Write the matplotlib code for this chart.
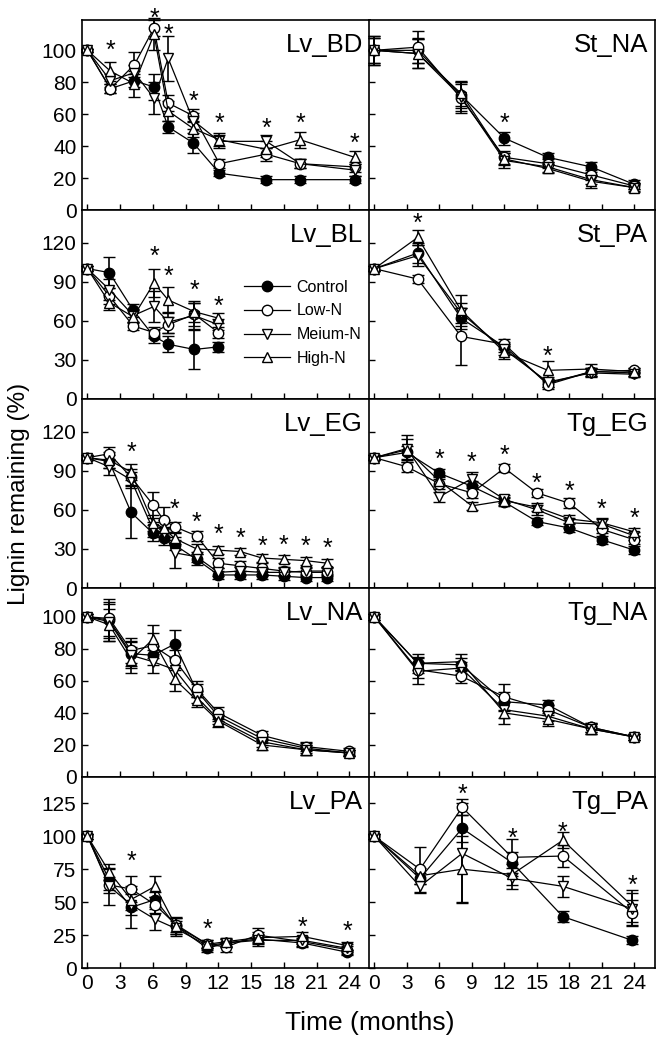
import matplotlib
matplotlib.use("Agg")
import matplotlib.pyplot as plt
from matplotlib.lines import Line2D
import numpy as np

plt.rcParams['font.family'] = ['Liberation Sans', 'DejaVu Sans']

# Data ---------------------------------------------------------------------------------------
series_names = ['Control', 'Low-N', 'Meium-N', 'High-N']
month_ticks = [0, 3, 6, 9, 12, 15, 18, 21, 24]

# Lv_BD
bd_t = [0, 2.1, 4.3, 6.1, 7.4, 9.7, 12.1, 16.4, 19.5, 24.5]
bd_vals = [[100, 76, 81, 77, 52, 42, 23, 19, 19, 19],
           [100, 76, 91, 114, 67, 59, 29, 35, 29, 27],
           [100, 81, 86, 70, 95, 56, 43, 43, 29, 25],
           [100, 87, 79, 110, 62, 51, 44, 38, 44, 33]]
bd_err = [[1, 3, 4, 8, 4, 6, 2, 2, 2, 2],
          [1, 3, 8, 5, 5, 4, 3, 4, 3, 3],
          [1, 4, 5, 10, 14, 5, 4, 4, 3, 4],
          [1, 6, 8, 10, 6, 5, 4, 5, 5, 4]]
bd_star_t = [2.1, 6.1, 7.4, 9.7, 12.1, 16.4, 19.5, 24.5]
bd_star_y = [104, 124, 114, 72, 58, 55, 58, 46]

# St_NA
sna_t = [0, 4, 8, 12, 16, 20, 24]
sna_vals = [[100, 100, 72, 45, 33, 27, 16],
            [100, 102, 70, 33, 29, 22, 15],
            [100, 98, 71, 31, 27, 19, 14],
            [100, 98, 73, 32, 26, 18, 14]]
sna_err = [[8, 8, 8, 4, 3, 3, 3],
           [9, 10, 9, 4, 3, 3, 2],
           [9, 9, 9, 5, 3, 3, 2],
           [8, 9, 8, 4, 3, 4, 3]]
sna_star_t = [12]
sna_star_y = [58]

# Lv_BL
bl_t = [0, 2, 4.2, 6.1, 7.4, 9.8, 12]
bl_vals = [[100, 97, 68, 48, 42, 38, 40],
           [100, 79, 56, 51, 57, 65, 51],
           [100, 84, 64, 71, 59, 64, 57],
           [100, 74, 63, 89, 76, 67, 62]]
bl_err = [[2, 12, 5, 5, 6, 15, 4],
          [2, 6, 3, 4, 6, 9, 4],
          [2, 8, 5, 12, 8, 10, 4],
          [2, 6, 5, 11, 10, 8, 4]]
bl_star_t = [6.1, 7.4, 9.8, 12]
bl_star_y = [114, 99, 88, 76]

# St_PA
spa_t = [0, 4, 8, 12, 16, 20, 24]
spa_vals = [[100, 112, 62, 40, 12, 21, 20],
            [100, 92, 48, 42, 11, 21, 22],
            [100, 110, 66, 38, 13, 20, 19],
            [100, 124, 68, 36, 22, 23, 21]]
spa_err = [[2, 8, 8, 4, 3, 3, 2],
           [2, 3, 22, 4, 3, 3, 2],
           [2, 8, 8, 4, 4, 3, 2],
           [2, 6, 12, 5, 7, 4, 3]]
spa_star_t = [4, 16]
spa_star_y = [140, 38]

# Lv_EG
eg_t = [0, 2, 4, 6, 7, 8, 10, 12, 14, 16, 18, 20, 22]
eg_vals = [[100, 97, 58, 42, 38, 33, 22, 10, 10, 10, 9, 8, 8],
           [100, 103, 85, 64, 52, 47, 40, 19, 17, 15, 13, 12, 12],
           [100, 93, 83, 45, 42, 27, 24, 12, 13, 12, 12, 13, 13],
           [100, 98, 89, 50, 46, 38, 30, 29, 28, 23, 22, 21, 19]]
eg_err = [[2, 5, 20, 6, 5, 4, 4, 3, 3, 3, 3, 3, 3],
          [2, 5, 6, 10, 10, 4, 4, 4, 4, 4, 3, 3, 3],
          [2, 6, 6, 6, 5, 12, 4, 3, 3, 3, 3, 3, 3],
          [2, 6, 6, 6, 6, 4, 4, 3, 3, 3, 3, 3, 3]]
eg_star_t = [4, 8, 10, 12, 14, 16, 18, 20, 22]
eg_star_y = [109, 65, 55, 46, 43, 37, 38, 37, 35]

# Tg_EG
teg_t = [0, 3, 6, 9, 12, 15, 18, 21, 24]
teg_vals = [[100, 104, 88, 78, 66, 51, 46, 37, 29],
            [100, 93, 80, 73, 92, 73, 65, 45, 37],
            [100, 107, 70, 84, 68, 60, 50, 49, 40],
            [100, 106, 82, 63, 67, 62, 53, 50, 43]]
teg_err = [[2, 5, 3, 4, 3, 3, 3, 3, 3],
           [2, 4, 4, 4, 3, 3, 4, 3, 3],
           [2, 10, 4, 5, 3, 4, 4, 4, 3],
           [2, 8, 4, 3, 3, 3, 3, 4, 3]]
teg_star_t = [6, 9, 12, 15, 18, 21, 24]
teg_star_y = [104, 101, 107, 85, 79, 65, 58]

# Lv_NA
na_t = [0, 2, 4, 6, 8, 10, 12, 16, 20, 24]
na_vals = [[100, 98, 77, 76, 83, 54, 38, 24, 18, 15],
           [100, 99, 79, 82, 73, 55, 40, 26, 19, 16],
           [100, 97, 76, 72, 67, 50, 36, 22, 17, 15],
           [100, 95, 73, 86, 61, 48, 35, 20, 17, 15]]
na_err = [[2, 10, 8, 6, 9, 4, 3, 3, 3, 2],
          [2, 12, 8, 8, 6, 5, 4, 3, 3, 2],
          [2, 12, 8, 7, 8, 4, 3, 3, 3, 2],
          [2, 10, 8, 9, 7, 4, 4, 3, 3, 2]]

# Tg_NA
tna_t = [0, 4, 8, 12, 16, 20, 24]
tna_vals = [[100, 71, 70, 47, 45, 31, 25],
            [100, 67, 63, 50, 42, 31, 25],
            [100, 66, 68, 42, 38, 30, 25],
            [100, 71, 72, 40, 36, 30, 25]]
tna_err = [[2, 4, 4, 6, 3, 3, 2],
           [2, 5, 4, 8, 3, 3, 2],
           [2, 8, 4, 5, 3, 3, 2],
           [2, 6, 5, 7, 4, 3, 2]]

# Lv_PA
pa_t = [0, 2, 4, 6.2, 8.1, 11, 12.7, 15.6, 19.7, 23.8]
pa_vals = [[100, 67, 46, 52, 32, 15, 19, 22, 19, 12],
           [100, 63, 60, 48, 33, 18, 16, 25, 20, 14],
           [100, 62, 48, 37, 30, 17, 19, 21, 21, 15],
           [100, 73, 52, 62, 32, 18, 20, 23, 24, 17]]
pa_err = [[2, 8, 16, 6, 6, 3, 3, 4, 3, 2],
          [2, 6, 10, 6, 6, 3, 4, 5, 3, 3],
          [2, 14, 8, 8, 6, 3, 3, 4, 3, 3],
          [2, 6, 8, 8, 6, 3, 3, 4, 3, 3]]
pa_star_t = [4, 11, 19.7, 23.8]
pa_star_y = [86, 34, 36, 33]

# Tg_PA
tpa_t = [0, 4.2, 8.1, 12.7, 17.4, 23.8]
tpa_vals = [[100, 68, 106, 80, 39, 21],
            [100, 75, 122, 84, 85, 42],
            [100, 62, 87, 68, 62, 45],
            [100, 70, 75, 71, 97, 47]]
tpa_err = [[2, 4, 10, 8, 4, 3],
           [2, 17, 6, 14, 8, 10],
           [2, 5, 38, 8, 8, 12],
           [2, 6, 25, 8, 6, 12]]
tpa_star_t = [8.1, 12.7, 17.4, 23.8]
tpa_star_y = [137, 103, 108, 68]

# Panel layout ---------------------------------------------------------------------------------
panels = [
    # (row, col, label, t, vals, err, star_t, star_y)
    (0, 0, 'Lv_BD', bd_t, bd_vals, bd_err, bd_star_t, bd_star_y),
    (0, 1, 'St_NA', sna_t, sna_vals, sna_err, sna_star_t, sna_star_y),
    (1, 0, 'Lv_BL', bl_t, bl_vals, bl_err, bl_star_t, bl_star_y),
    (1, 1, 'St_PA', spa_t, spa_vals, spa_err, spa_star_t, spa_star_y),
    (2, 0, 'Lv_EG', eg_t, eg_vals, eg_err, eg_star_t, eg_star_y),
    (2, 1, 'Tg_EG', teg_t, teg_vals, teg_err, teg_star_t, teg_star_y),
    (3, 0, 'Lv_NA', na_t, na_vals, na_err, [], []),
    (3, 1, 'Tg_NA', tna_t, tna_vals, tna_err, [], []),
    (4, 0, 'Lv_PA', pa_t, pa_vals, pa_err, pa_star_t, pa_star_y),
    (4, 1, 'Tg_PA', tpa_t, tpa_vals, tpa_err, tpa_star_t, tpa_star_y),
]

row_ylim = [119, 145, 145, 118, 145]
row_yticks = [np.arange(0, 101, 20), np.arange(0, 121, 30), np.arange(0, 121, 30),
              np.arange(0, 101, 20), np.arange(0, 126, 25)]
row_px = [(20, 210), (210, 399), (399, 588), (588, 777), (777, 968)]
col_px = [(82, 370), (369, 655)]

markers = ['o', 'o', 'v', '^']
faces = ['black', 'white', 'white', 'white']

W, H = 662, 1044
fig = plt.figure(figsize=(W / 100, H / 100), dpi=100)

axes = {}
for row, col, label, t, vals, err, star_t, star_y in panels:
    x0, x1 = col_px[col]
    y0, y1 = row_px[row]
    ax = fig.add_axes([x0 / W, 1 - y1 / H, (x1 - x0) / W, (y1 - y0) / H])
    axes[(row, col)] = ax
    for i in range(4):
        ax.errorbar(t, vals[i], yerr=err[i], color='black', lw=0.9,
                    marker=markers[i], mfc=faces[i], mec='black', mew=1.0, ms=7.5,
                    ecolor='black', elinewidth=1.2, capsize=4.5, capthick=1.2,
                    clip_on=False, zorder=3)
    for sx, sy in zip(star_t, star_y):
        ax.annotate('*', (sx, sy), xytext=(0, -5), textcoords='offset points',
                    ha='center', va='center', fontsize=18, annotation_clip=False)
    ax.text(0.975, 0.87, label, transform=ax.transAxes, ha='right', va='center', fontsize=18.5)
    ax.set_xlim(-0.5, 25.9)
    ax.set_ylim(0, row_ylim[row])
    ax.set_xticks(month_ticks)
    ax.set_yticks(row_yticks[row])
    ax.tick_params(direction='in', length=4, width=1, labelsize=15, pad=4)
    if row < 4:
        ax.tick_params(labelbottom=False)
    if col == 1:
        ax.tick_params(labelleft=False)
    for s in ax.spines.values():
        s.set_linewidth(1.2)

handles = [Line2D([], [], color='black', lw=0.9, marker=markers[i], mfc=faces[i],
                  mec='black', mew=1.0, ms=7.5) for i in range(4)]
leg = axes[(1, 0)].legend(handles, series_names, loc='upper left',
                          bbox_to_anchor=(0.54, 0.665), frameon=False,
                          fontsize=11.5, handlelength=2.9, handletextpad=0.4,
                          labelspacing=0.55, borderaxespad=0)

fig.text(0.028, (1 - (20 + 968) / 2 / H), 'Lignin remaining (%)', rotation=90,
         ha='center', va='center', fontsize=17.5)
fig.text(370 / W, 1 - 1023 / H, 'Time (months)', ha='center', va='center', fontsize=19)

fig.savefig('out.png', dpi=100)
